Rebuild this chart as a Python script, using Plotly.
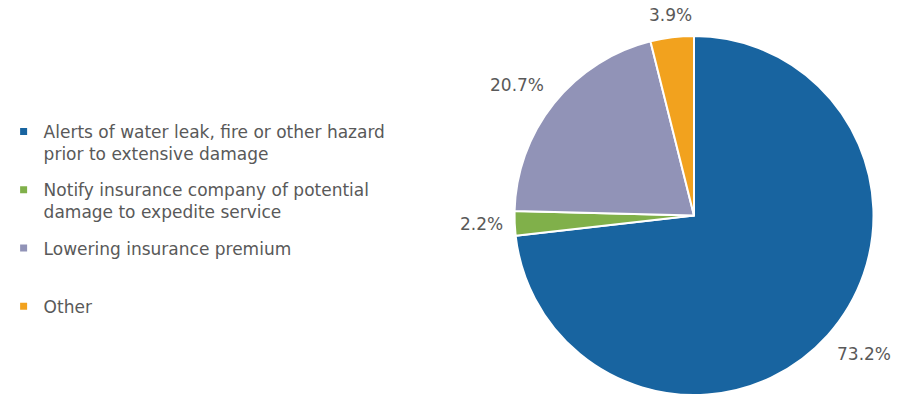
import math
import plotly.graph_objects as go

legend_names = [
    "Alerts of water leak, fire or other hazard<br>prior to extensive damage",
    "Notify insurance company of potential<br>damage to expedite service",
    "Lowering insurance premium<br> ",
    "Other",
]
values = [73.2, 2.2, 20.7, 3.9]
colors = ["#1864A0", "#80B04A", "#9193B7", "#F2A21E"]

W, H = 904, 395
FONT = "DejaVu Sans, Verdana, Arial"
TXT = "#595959"

# pie placement (pixels -> paper domain)
cx, cy, half = 694.0, 215.5, 179.5
dom_x = [(cx - half) / W, (cx + half) / W]
dom_y = [1 - (cy + half) / H, 1 - (cy - half) / H]

fig = go.Figure()
fig.add_trace(go.Pie(
    labels=legend_names,
    values=values,
    sort=False,
    direction="clockwise",
    rotation=0,
    marker=dict(colors=colors, line=dict(color="white", width=2)),
    textinfo="none",
    showlegend=False,
    domain=dict(x=dom_x, y=dom_y),
    hoverinfo="label+percent",
))

for name, col in zip(legend_names, colors):
    fig.add_trace(go.Scatter(
        x=[None], y=[None], mode="markers", name=name,
        legendgroup=name,
        marker=dict(symbol="square", size=7, color=col),
    ))

# outside data labels placed from the slice mid-angles
total = sum(values)
cum = 0.0
R = half - 2
gap = 12
for v in values:
    mid = (cum + v / 2) / total * 2 * math.pi
    cum += v
    s, c = math.sin(mid), math.cos(mid)
    px = cx + (R + gap) * s
    py = cy - (R + gap) * c
    xa = "center" if abs(s) < 0.3 else ("left" if s > 0 else "right")
    ya = "middle" if abs(c) < 0.3 else ("bottom" if c > 0 else "top")
    fig.add_annotation(
        x=px / W, y=1 - py / H, xref="paper", yref="paper",
        text=f"{v / total * 100:.1f}%", showarrow=False,
        xanchor=xa, yanchor=ya,
        font=dict(family=FONT, size=17, color=TXT),
    )

fig.update_layout(
    width=W, height=H,
    margin=dict(l=0, r=0, t=0, b=0),
    paper_bgcolor="white", plot_bgcolor="white",
    xaxis=dict(visible=False), yaxis=dict(visible=False),
    legend=dict(
        x=0.004, xanchor="left", y=1 - 114 / H, yanchor="top",
        valign="top", tracegroupgap=11,
        font=dict(family=FONT, size=17, color=TXT),
        bgcolor="rgba(0,0,0,0)",
    ),
)

fig.write_html("out.html")
